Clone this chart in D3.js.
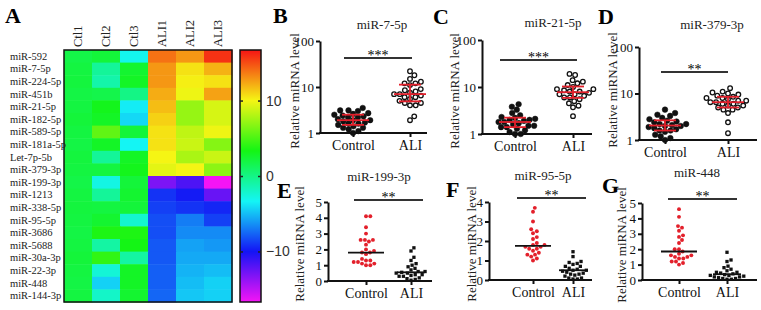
<!DOCTYPE html>
<html>
<head>
<meta charset="utf-8">
<script src="https://cdn.jsdelivr.net/npm/d3@7"></script>
<style>
  body { margin: 0; background: #fff; }
  svg { display: block; }
</style>
</head>
<body>
<div id="chart"></div>
<script>
// heatmap data
const rowNames = ["miR-592", "miR-7-5p", "miR-224-5p", "miR-451b", "miR-21-5p", "miR-182-5p",
  "miR-589-5p", "miR-181a-5p", "Let-7p-5b", "miR-379-3p", "miR-199-3p", "miR-1213",
  "miR-338-5p", "miR-95-5p", "miR-3686", "miR-5688", "miR-30a-3p", "miR-22-3p",
  "miR-448", "miR-144-3p"];
const sampleNames = ["Ctl1", "Ctl2", "Ctl3", "ALI1", "ALI2", "ALI3"];
const heatValues = [
  [1.8, 2.2, -3.1, 13.9, 12.8, 15.8],
  [2.0, -0.6, 2.5, 12.8, 10.6, 12.0],
  [2.1, -1.1, 2.8, 12.8, 10.2, 10.6],
  [1.9, 1.7, 0.0, 12.2, 9.8, 12.5],
  [2.0, 3.1, -3.6, 11.7, 7.2, 9.1],
  [2.2, 2.8, -4.2, 11.1, 7.2, 9.1],
  [2.0, 5.6, 2.2, 10.6, 8.4, 9.8],
  [1.9, 2.8, -3.3, 10.6, 8.7, 6.7],
  [2.1, -0.6, 2.8, 10.0, 7.8, 8.7],
  [2.0, 2.0, 3.1, 9.5, 10.0, 6.9],
  [1.8, -2.8, 2.2, -13.1, -11.7, -16.7],
  [2.0, -0.6, 2.5, -9.1, -9.8, -12.5],
  [2.1, 2.0, 2.2, -8.7, -9.1, -9.5],
  [2.0, 2.5, -2.2, -8.3, -6.9, -8.7],
  [1.9, 3.6, 3.6, -8.3, -6.5, -6.5],
  [2.0, -0.9, 3.3, -8.0, -5.8, -6.1],
  [2.2, 4.2, -0.9, -8.0, -5.6, -5.6],
  [2.0, -2.4, 2.8, -7.8, -5.3, -5.0],
  [1.9, -4.4, 2.8, -7.8, -5.0, -4.4],
  [2.0, -2.0, 2.5, -7.6, -4.7, -4.4]
];
const colorDomain = [-16.7, 16.7];
const colorTicks = [10, 0, -10];

// scatter data
const groups = ["Control", "ALI"];
const bControl = [3.5, 3.1, 3.1, 3.0, 2.7, 2.6, 2.5, 2.4, 2.3, 2.2, 2.2, 2.0, 1.9, 1.9, 1.8, 1.7, 1.6, 1.6, 1.5, 1.4, 1.3, 1.3, 1.2, 1.1, 1.0];
const bALI = [22, 18, 15, 13, 12, 12, 11, 9, 8.5, 8, 7.5, 7, 7, 6.5, 6, 6, 5.5, 5, 4.5, 4.5, 4, 4, 2.3, 1.9];
const cControl = [4.3, 3.8, 3.3, 2.8, 2.5, 2.3, 2.2, 2.1, 2.0, 2.0, 1.9, 1.8, 1.8, 1.7, 1.6, 1.5, 1.5, 1.4, 1.4, 1.3, 1.2, 1.1, 1.0, 1.0];
const cALI = [19, 18, 14, 13, 12, 11, 10, 9, 9, 8.5, 8, 8, 7.5, 7, 7, 6.5, 6, 6, 5.5, 5, 4.5, 4, 3.7, 2.4];
const dControl = [4.5, 3.8, 3.5, 3.3, 3.0, 2.8, 2.6, 2.5, 2.4, 2.2, 2.2, 2.1, 2.0, 2.0, 1.9, 1.8, 1.7, 1.6, 1.6, 1.5, 1.3, 1.2, 1.1, 1.0];
const dALI = [13, 11, 10.5, 10, 9.5, 9, 8.5, 8, 8, 7.5, 7, 7, 6.5, 6.5, 6, 6, 5.5, 5.5, 5, 5, 4.5, 4.5, 3.8, 2.4, 1.4];
const eControl = [4.1, 4.1, 3.4, 3.0, 2.6, 2.6, 2.6, 2.5, 2.3, 2.0, 1.9, 1.8, 1.8, 1.7, 1.4, 1.3, 1.3, 1.2, 1.2, 1.1, 1.1, 1.0, 1.0];
const eALI = [2.1, 1.9, 1.5, 1.3, 1.1, 1.0, 0.9, 0.8, 0.7, 0.6, 0.6, 0.55, 0.5, 0.5, 0.4, 0.4, 0.35, 0.3, 0.3, 0.2, 0.15, 0.1, 0.05];
const fControl = [3.7, 3.5, 3.0, 2.6, 2.5, 2.4, 2.2, 2.1, 1.9, 1.8, 1.8, 1.7, 1.7, 1.6, 1.6, 1.5, 1.4, 1.3, 1.3, 1.2, 1.1, 1.0];
const fALI = [1.45, 1.2, 0.95, 0.9, 0.85, 0.8, 0.7, 0.7, 0.6, 0.55, 0.5, 0.5, 0.45, 0.4, 0.35, 0.3, 0.3, 0.25, 0.2, 0.1, 0.1, 0.05, 0.05];
const gControl = [4.6, 4.1, 3.5, 3.4, 3.2, 2.9, 2.8, 2.6, 2.4, 2.0, 2.0, 1.85, 1.7, 1.6, 1.6, 1.5, 1.5, 1.4, 1.4, 1.2, 1.2, 1.1, 1.0];
const gALI = [1.8, 1.3, 1.2, 0.9, 0.8, 0.7, 0.6, 0.5, 0.5, 0.45, 0.4, 0.35, 0.3, 0.3, 0.25, 0.2, 0.2, 0.15, 0.1, 0.1, 0.05, 0.05];

const red = "#e3202b";
const serif = "'Liberation Serif', 'Times New Roman', serif";

const svg = d3.select("#chart")
  .append("svg")
    .attr("width", 761)
    .attr("height", 310)
    .attr("font-family", serif);

// heatmap

const hx = d3.scaleBand().domain(sampleNames).range([64, 232]);
const hy = d3.scaleBand().domain(rowNames).range([50, 302]);
const color = d3.scaleSequential(t => d3.hsl(300 * (1 - t), 0.92, 0.52) + "")
  .domain(colorDomain);

const cells = [];
heatValues.forEach((row, i) => row.forEach((v, j) => cells.push({ r: rowNames[i], c: sampleNames[j], v })));

svg.append("g").selectAll("rect")
  .data(cells)
  .join("rect")
    .attr("x", d => hx(d.c))
    .attr("y", d => hy(d.r))
    .attr("width", hx.bandwidth() + 0.5)
    .attr("height", hy.bandwidth() + 0.5)
    .attr("fill", d => color(d.v));

svg.append("rect")
  .attr("x", 64).attr("y", 50)
  .attr("width", 168).attr("height", 252)
  .attr("fill", "none").attr("stroke", "#111").attr("stroke-width", 1.5);

svg.append("g").selectAll("text")
  .data(rowNames)
  .join("text")
    .attr("x", 10)
    .attr("y", d => hy(d) + hy.bandwidth() / 2 + 3.5)
    .attr("font-size", 10.5)
    .attr("fill", "#222")
    .text(d => d);

svg.append("g").selectAll("text")
  .data(sampleNames)
  .join("text")
    .attr("transform", d => `translate(${hx(d) + hx.bandwidth() / 2 + 4},47) rotate(-90)`)
    .attr("font-size", 12.5)
    .attr("fill", "#222")
    .text(d => d);

// colour bar
const cb = d3.scaleLinear().domain(colorDomain).range([302, 50]);
const grad = svg.append("defs").append("linearGradient")
  .attr("id", "cbar").attr("x1", 0).attr("x2", 0).attr("y1", 1).attr("y2", 0);
grad.selectAll("stop")
  .data(d3.range(0, 1.0001, 0.05))
  .join("stop")
    .attr("offset", d => d)
    .attr("stop-color", d => color(colorDomain[0] + d * (colorDomain[1] - colorDomain[0])));

svg.append("rect")
  .attr("x", 240).attr("y", 50)
  .attr("width", 21).attr("height", 252)
  .attr("fill", "url(#cbar)")
  .attr("stroke", "#111").attr("stroke-width", 1.5);

const cbRight = svg.append("g")
  .attr("transform", "translate(261,0)")
  .call(d3.axisRight(cb).tickValues(colorTicks).tickSize(-3).tickPadding(5).tickFormat(d3.format("d")));
const cbLeft = svg.append("g")
  .attr("transform", "translate(240,0)")
  .call(d3.axisLeft(cb).tickValues(colorTicks).tickSize(-3).tickFormat(""));
[cbRight, cbLeft].forEach(a => {
  a.select(".domain").remove();
  a.selectAll("line").attr("stroke", "#222").attr("stroke-width", 1.5);
});
cbRight.selectAll("text")
  .attr("font-family", "'Liberation Sans', Arial, sans-serif")
  .attr("font-size", 14)
  .attr("fill", "#333");

// panel letters
const letters = [
  ["A", 5, 23], ["B", 273, 23], ["C", 433, 24], ["D", 598, 24],
  ["E", 277, 198], ["F", 446, 197], ["G", 602, 193]
];
svg.append("g").selectAll("text")
  .data(letters)
  .join("text")
    .attr("x", d => d[1])
    .attr("y", d => d[2])
    .attr("font-size", 22)
    .attr("font-weight", "bold")
    .text(d => d[0]);

// beeswarm layout for the dots
function swarm(values, y, gapD) {
  const pts = values.map(v => ({ v, y: y(v) })).sort((a, b) => b.y - a.y);
  const placed = [];
  pts.forEach(p => {
    const cands = [0];
    placed.forEach(q => {
      const dy = Math.abs(q.y - p.y);
      if (dy < gapD) {
        const dx = Math.sqrt(gapD * gapD - dy * dy);
        cands.push(q.x + dx, q.x - dx);
      }
    });
    cands.sort((a, b) => Math.abs(a) - Math.abs(b));
    p.x = cands.find(x => placed.every(q => (q.x - x) ** 2 + (q.y - p.y) ** 2 >= gapD * gapD - 0.01));
    placed.push(p);
  });
  return pts;
}

function panel(cfg) {
  const g = svg.append("g");
  const y = (cfg.log ? d3.scaleLog().domain([1, 100]) : d3.scaleLinear().domain([0, cfg.max]))
    .range([cfg.bottom, cfg.top]);
  const x = d3.scalePoint().domain(groups).range([cfg.cx, cfg.ax]);

  const yAxis = g.append("g")
    .attr("transform", `translate(${cfg.left},0)`)
    .call(d3.axisLeft(y)
      .tickValues(cfg.log ? [1, 10, 100] : d3.range(0, cfg.max + 1))
      .tickFormat(d3.format("d"))
      .tickSize(4).tickSizeOuter(0).tickPadding(2));
  const xAxis = g.append("g")
    .attr("transform", `translate(0,${cfg.bottom})`)
    .call(d3.axisBottom(x).tickSize(4).tickSizeOuter(0).tickPadding(3));
  xAxis.select(".domain").remove();
  g.append("line")
    .attr("x1", cfg.left - 1).attr("x2", cfg.right)
    .attr("y1", cfg.bottom).attr("y2", cfg.bottom)
    .attr("stroke", "#111").attr("stroke-width", 2);
  [yAxis, xAxis].forEach(a => {
    a.attr("font-family", serif);
    a.selectAll("path, line").attr("stroke", "#111").attr("stroke-width", 2);
    a.selectAll("text").attr("fill", "#111");
  });
  yAxis.selectAll("text").attr("font-size", 13);
  xAxis.selectAll("text").attr("font-size", 14);

  g.append("text")
    .attr("transform", `translate(${cfg.ylab},${cfg.ylabY}) rotate(-90)`)
    .attr("text-anchor", "middle")
    .attr("font-size", 13)
    .attr("fill", "#222")
    .text("Relative miRNA level");

  g.append("text")
    .attr("x", cfg.titleX).attr("y", cfg.titleY)
    .attr("text-anchor", "middle")
    .attr("font-size", 13)
    .attr("fill", "#222")
    .text(cfg.title);

  g.append("line")
    .attr("x1", cfg.sig[0]).attr("x2", cfg.sig[1])
    .attr("y1", cfg.sigY).attr("y2", cfg.sigY)
    .attr("stroke", "#333").attr("stroke-width", 2);
  g.append("text")
    .attr("x", (cfg.sig[0] + cfg.sig[1]) / 2).attr("y", cfg.sigY + 2)
    .attr("text-anchor", "middle")
    .attr("font-size", 14)
    .text(cfg.stars);

  [cfg.control, cfg.ali].forEach((vals, k) => {
    const cx = x(groups[k]);
    if (cfg.log) {
      const r = 2.8;
      const pts = swarm(vals, y, 5.7);
      g.append("g").selectAll("circle")
        .data(pts)
        .join("circle")
          .attr("cx", d => cx + d.x)
          .attr("cy", d => d.y)
          .attr("r", k === 0 ? r : r - 0.5)
          .attr("fill", k === 0 ? "#111" : "#fff")
          .attr("stroke", "#111")
          .attr("stroke-width", k === 0 ? 0.5 : 1.3);
      const sorted = vals.slice().sort(d3.ascending);
      const med = d3.median(sorted);
      const q1 = d3.quantile(sorted, 0.25);
      const q3 = d3.quantile(sorted, 0.75);
      const eb = g.append("g").attr("stroke", red).attr("stroke-width", 1.8);
      eb.append("line").attr("x1", cx - 16).attr("x2", cx + 16).attr("y1", y(med)).attr("y2", y(med));
      [q1, q3].forEach(q => eb.append("line")
        .attr("x1", cx - 11).attr("x2", cx + 11).attr("y1", y(q)).attr("y2", y(q)));
      eb.append("line").attr("x1", cx).attr("x2", cx).attr("y1", y(q1)).attr("y2", y(q3));
    } else {
      const pts = swarm(vals, y, 4.3);
      const sym = d3.symbol().type(k === 0 ? d3.symbolCircle : d3.symbolSquare).size(k === 0 ? 12 : 11);
      g.append("g").selectAll("path")
        .data(pts)
        .join("path")
          .attr("transform", d => `translate(${cx + d.x},${d.y})`)
          .attr("d", sym)
          .attr("fill", k === 0 ? red : "#111");
      const med = d3.median(vals);
      g.append("line")
        .attr("x1", cx - (k === 0 ? 18 : 14)).attr("x2", cx + (k === 0 ? 18 : 14))
        .attr("y1", y(med)).attr("y2", y(med))
        .attr("stroke", "#111").attr("stroke-width", 1.8);
    }
  });
}

panel({ log: true, left: 320, right: 427, bottom: 133, top: 41, cx: 353, ax: 410,
  title: "miR-7-5p", titleX: 382, titleY: 29, sig: [344, 412], sigY: 58, stars: "***",
  ylab: 299, ylabY: 91, control: bControl, ali: bALI });
panel({ log: true, left: 482, right: 592, bottom: 134, top: 40, cx: 515, ax: 573,
  title: "miR-21-5p", titleX: 553, titleY: 27, sig: [500, 577], sigY: 60, stars: "***",
  ylab: 459, ylabY: 91, control: cControl, ali: cALI });
panel({ log: true, left: 639, right: 757, bottom: 140, top: 47, cx: 665, ax: 728,
  title: "miR-379-3p", titleX: 712, titleY: 29, sig: [661, 728], sigY: 72, stars: "**",
  ylab: 617, ylabY: 90, control: dControl, ali: dALI });
panel({ log: false, max: 5, left: 328, right: 432, bottom: 281, top: 202, cx: 366, ax: 411,
  title: "miR-199-3p", titleX: 379, titleY: 181, sig: [354, 423], sigY: 200, stars: "**",
  ylab: 304, ylabY: 244, control: eControl, ali: eALI });
panel({ log: false, max: 4, left: 489, right: 592, bottom: 280, top: 202, cx: 533, ax: 573,
  title: "miR-95-5p", titleX: 543, titleY: 180, sig: [517, 586], sigY: 198, stars: "**",
  ylab: 476, ylabY: 244, control: fControl, ali: fALI });
panel({ log: false, max: 5, left: 642, right: 757, bottom: 280, top: 203, cx: 679, ax: 727,
  title: "miR-448", titleX: 697, titleY: 177, sig: [668, 737], sigY: 199, stars: "**",
  ylab: 626, ylabY: 245, control: gControl, ali: gALI });
</script>
</body>
</html>
